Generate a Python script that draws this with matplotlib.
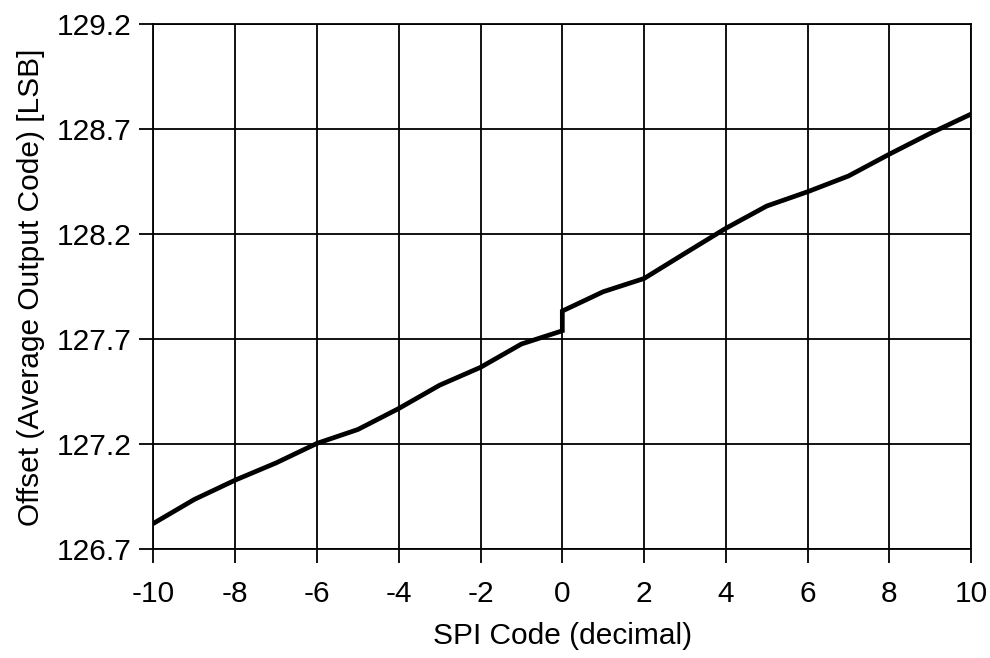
import numpy as np
import matplotlib
matplotlib.use('Agg')
import matplotlib.pyplot as plt

# SPI code (two zero codes: -0 and +0)
spi_code = [-10, -9, -8, -7, -6, -5, -4, -3, -2, -1, 0, 0,
            1, 2, 3, 4, 5, 6, 7, 8, 9, 10]
offset_lsb = [126.824, 126.938, 127.030, 127.112, 127.205, 127.271, 127.371,
              127.482, 127.567, 127.678, 127.741, 127.835,
              127.927, 127.990, 128.110, 128.229, 128.335, 128.403, 128.478,
              128.582, 128.681, 128.773]

x_ticks = list(range(-10, 11, 2))
y_ticks = [126.7, 127.2, 127.7, 128.2, 128.7, 129.2]

plt.rcParams['font.family'] = ['Liberation Sans', 'DejaVu Sans']

fig = plt.figure(figsize=(9.9, 6.58), dpi=100)
ax = fig.add_axes([0.155, 0.165, 0.826, 0.798])

ax.plot(spi_code, offset_lsb, color='black', linewidth=3.4, solid_joinstyle='miter', zorder=3)

ax.set_xlim(-10, 10)
ax.set_ylim(126.7, 129.2)
ax.set_xticks(x_ticks)
ax.set_yticks(y_ticks)
ax.set_xticklabels([str(t) for t in x_ticks])
ax.set_yticklabels(['%.1f' % t for t in y_ticks])
ax.grid(True, color='black', linewidth=1.3)
ax.set_axisbelow(True)

for s in ax.spines.values():
    s.set_linewidth(1.3)
    s.set_color('black')

ax.tick_params(axis='both', direction='out', length=10, width=1.3, labelsize=21.5, pad=6)
ax.tick_params(axis='x', pad=12)

ax.set_xlabel('SPI Code (decimal)', fontsize=21.5, labelpad=10)
ax.set_ylabel('Offset (Average Output Code) [LSB]', fontsize=21.5, labelpad=8)

fig.savefig('out.png', dpi=100)
